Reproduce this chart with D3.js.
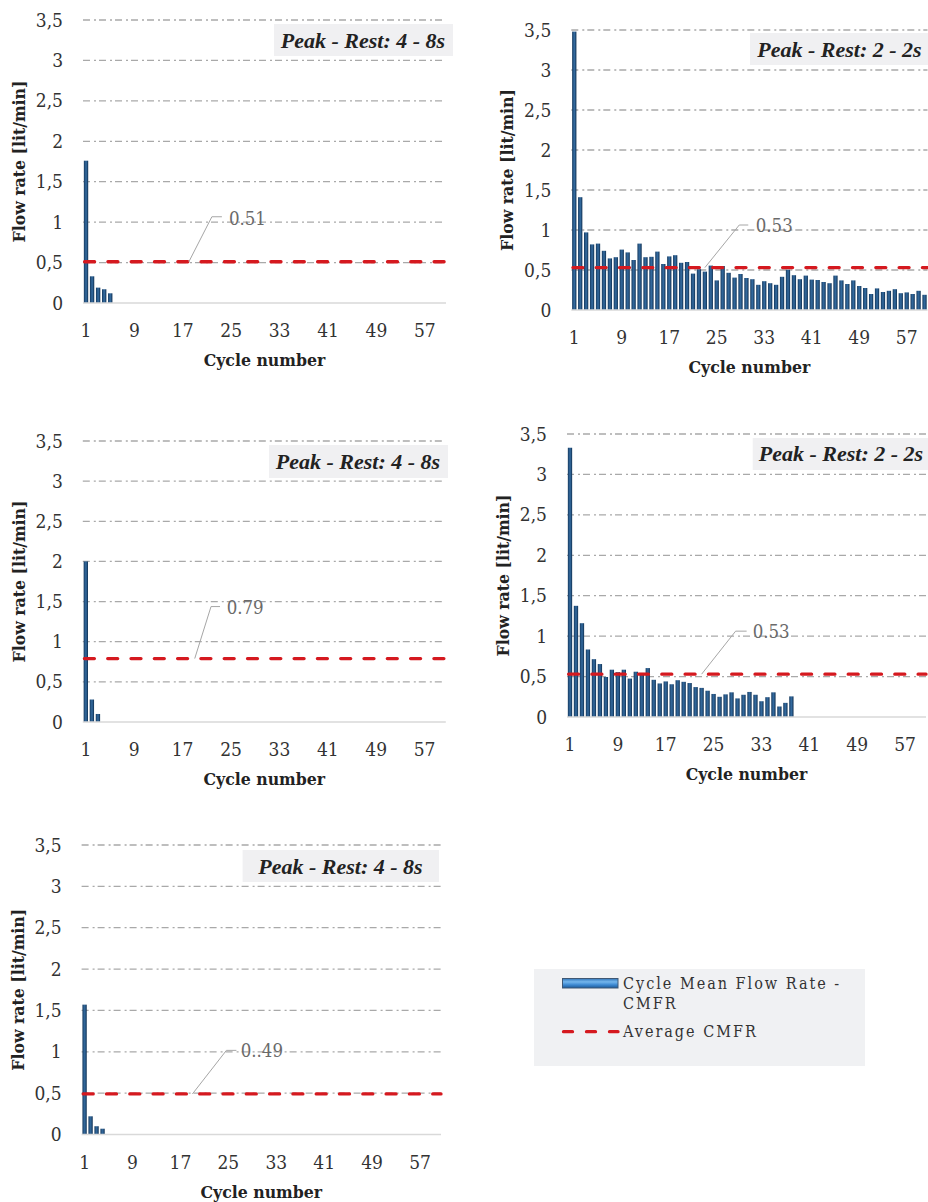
<!DOCTYPE html>
<html>
<head>
<meta charset="utf-8">
<script src="https://cdn.jsdelivr.net/npm/d3@7"></script>
<style>
  body { margin: 0; background: #fff; }
  svg { display: block; }
</style>
</head>
<body>
<svg id="chart" width="928" height="1202"></svg>
<script>
// ---- data ----------------------------------------------------------
const cycles = d3.range(1, 61);                       // cycle numbers 1..60
const xTickLabels = ["1", "9", "17", "25", "33", "41", "49", "57"];
const yTickValues = [0, 0.5, 1, 1.5, 2, 2.5, 3, 3.5];
const yTickLabels = ["0", "0,5", "1", "1,5", "2", "2,5", "3", "3,5"];

// cycle mean flow rate [lit/min], one array per test
const cmfrA = [1.76, 0.33, 0.19, 0.17, 0.12];
const cmfrB = [3.48, 1.41, 0.97, 0.82, 0.83, 0.74, 0.645, 0.66, 0.755, 0.72,
               0.625, 0.83, 0.66, 0.665, 0.73, 0.575, 0.67, 0.685, 0.59, 0.60,
               0.455, 0.51, 0.48, 0.555, 0.37, 0.55, 0.465, 0.405, 0.45, 0.40,
               0.385, 0.315, 0.36, 0.335, 0.315, 0.415, 0.505, 0.435, 0.385, 0.43,
               0.38, 0.375, 0.35, 0.335, 0.43, 0.37, 0.325, 0.37, 0.30, 0.275,
               0.20, 0.27, 0.225, 0.24, 0.26, 0.21, 0.22, 0.20, 0.24, 0.19];
const cmfrC = [2.0, 0.28, 0.10];
const cmfrD = [3.33, 1.375, 1.16, 0.835, 0.715, 0.655, 0.495, 0.585, 0.555, 0.585,
               0.475, 0.56, 0.545, 0.605, 0.46, 0.415, 0.44, 0.405, 0.455, 0.435,
               0.42, 0.37, 0.36, 0.325, 0.285, 0.25, 0.28, 0.305, 0.23, 0.275,
               0.31, 0.275, 0.195, 0.245, 0.305, 0.13, 0.175, 0.255];
const cmfrE = [1.57, 0.22, 0.10, 0.07];

const averages = [0.51, 0.53, 0.79, 0.53, 0.49];
const averageLabels = ["0.51", "0.53", "0.79", "0.53", "0..49"];
const panelTitles = ["Peak - Rest: 4 - 8s", "Peak - Rest: 2 - 2s", "Peak - Rest: 4 - 8s",
                     "Peak - Rest: 2 - 2s", "Peak - Rest: 4 - 8s"];
const xAxisTitle = "Cycle number";
const yAxisTitle = "Flow rate [lit/min]";
const legendBarLabel = ["Cycle Mean Flow Rate -", "CMFR"];
const legendLineLabel = "Average CMFR";

// ---- layout --------------------------------------------------------
const panels = [
  { series: cmfrA, left: 83,    right: 446,   top: 20,  bottom: 303,
    box: [274, 24, 179, 32],   titleCx: 363,   titleY: 48,
    leadCycle: 18, lead: [23, -45, 10],   labelDx: 7,   labelDy: 8 },
  { series: cmfrB, left: 571.3, right: 927.5, top: 30,  bottom: 310,
    box: [750, 33, 185, 32],   titleCx: 839.5, titleY: 57,
    leadCycle: 23, lead: [34.4, -42.6, 9], labelDx: 7.4, labelDy: 7 },
  { series: cmfrC, left: 82.8,  right: 445.8, top: 441, bottom: 722,
    box: [269, 445, 179, 33],  titleCx: 358,   titleY: 469,
    leadCycle: 19, lead: [16.3, -52, 9],  labelDx: 6.6, labelDy: 7 },
  { series: cmfrD, left: 567,   right: 926,   top: 434, bottom: 717,
    box: [752.7, 438, 185, 32], titleCx: 841,  titleY: 461,
    leadCycle: 23, lead: [34, -43, 11],   labelDx: 6,   labelDy: 7 },
  { series: cmfrE, left: 81.6,  right: 441,   top: 845, bottom: 1134.5,
    box: [242.6, 850, 196.4, 32], titleCx: 340.5, titleY: 874,
    leadCycle: 19, lead: [34, -43.6, 10], labelDx: 4.3, labelDy: 7 }
];

const FONT = "'DejaVu Serif Condensed', 'DejaVu Serif', serif";
const TITLE_FONT = "'Liberation Serif', 'Times New Roman', serif";
const RED = "#d5191f";

const svg = d3.select("#chart");
const defs = svg.append("defs");

// bevelled bar fill
const barGrad = defs.append("linearGradient").attr("id", "barFill")
  .attr("x1", 0).attr("x2", 1).attr("y1", 0).attr("y2", 0);
[["0%", "#12365a"], ["30%", "#2a5a8a"], ["55%", "#336a9e"], ["100%", "#0e2e50"]]
  .forEach(([o, c]) => barGrad.append("stop").attr("offset", o).attr("stop-color", c));

const swatchGrad = defs.append("linearGradient").attr("id", "swatchFill")
  .attr("x1", 0).attr("x2", 0).attr("y1", 0).attr("y2", 1);
[["0%", "#2f74b8"], ["35%", "#74b6ec"], ["65%", "#3f8bd3"], ["100%", "#1c5a99"]]
  .forEach(([o, c]) => swatchGrad.append("stop").attr("offset", o).attr("stop-color", c));

panels.forEach((p, i) => {
  const g = svg.append("g");
  const x = d3.scaleBand().domain(cycles).range([p.left, p.right])
    .paddingInner(0.28).paddingOuter(0.14);
  const y = d3.scaleLinear().domain([0, 3.5]).range([p.bottom, p.top]);

  // dash-dot gridlines
  g.append("g").selectAll("line").data(yTickValues.filter(v => v > 0)).join("line")
    .attr("x1", p.left).attr("x2", p.right)
    .attr("y1", d => y(d)).attr("y2", d => y(d))
    .attr("stroke", "#a9a9a9").attr("stroke-width", 1.3)
    .attr("stroke-dasharray", "7,4,2,3");

  // panel title box
  g.append("rect")
    .attr("x", p.box[0]).attr("y", p.box[1]).attr("width", p.box[2]).attr("height", p.box[3])
    .attr("fill", "#f0f0f2");
  g.append("text")
    .attr("x", p.titleCx).attr("y", p.titleY).attr("text-anchor", "middle")
    .attr("font-family", TITLE_FONT).attr("font-size", 22).attr("font-weight", "bold")
    .attr("font-style", "italic").attr("fill", "#222")
    .text(panelTitles[i]);

  // bars
  const rows = p.series.map((v, k) => ({ cycle: cycles[k], value: v }));
  g.append("g").selectAll("rect").data(rows).join("rect")
    .attr("x", d => x(d.cycle)).attr("width", x.bandwidth())
    .attr("y", d => y(d.value)).attr("height", d => y(0) - y(d.value))
    .attr("fill", "url(#barFill)");

  // category axis
  const xAxis = g.append("g").attr("transform", `translate(0,${p.bottom})`)
    .call(d3.axisBottom(x).tickValues(xTickLabels.map(Number))
      .tickFormat((d, k) => xTickLabels[k]).tickSize(0));
  xAxis.select(".domain").attr("stroke", "#d9d9d9").attr("stroke-width", 1.6)
    .attr("d", `M${p.left},0H${p.right}`);
  xAxis.selectAll("text").attr("y", 34).attr("dy", null)
    .attr("font-family", FONT).attr("font-size", 19).attr("fill", "#333");

  // value axis
  const yAxis = g.append("g").attr("transform", `translate(${p.left},0)`)
    .call(d3.axisLeft(y).tickValues(yTickValues)
      .tickFormat((d, k) => yTickLabels[k]).tickSize(0).tickPadding(20));
  yAxis.select(".domain").remove();
  yAxis.selectAll("text").attr("font-family", FONT).attr("font-size", 19).attr("fill", "#333");

  // axis titles
  g.append("text")
    .attr("x", (p.left + p.right) / 2).attr("y", p.bottom + 63).attr("text-anchor", "middle")
    .attr("font-family", FONT).attr("font-size", 17.5).attr("font-weight", "bold").attr("fill", "#222")
    .text(xAxisTitle);
  g.append("text")
    .attr("transform", `translate(${p.left - 64},${(p.top + p.bottom) / 2}) rotate(-90)`)
    .attr("text-anchor", "middle").attr("dy", "0.35em")
    .attr("font-family", FONT).attr("font-size", 17.5).attr("font-weight", "bold").attr("fill", "#222")
    .text(yAxisTitle);

  // average line
  const ay = y(averages[i]);
  g.append("line")
    .attr("x1", p.left + 1.6).attr("x2", p.right).attr("y1", ay).attr("y2", ay)
    .attr("stroke", RED).attr("stroke-width", 3.3)
    .attr("stroke-dasharray", "10,13.3").attr("stroke-linecap", "round");

  // leader and value label
  const lx = x(p.leadCycle) + x.bandwidth() / 2;
  const ex = lx + p.lead[0], ey = ay + p.lead[1], hx = ex + p.lead[2];
  g.append("path")
    .attr("d", `M${lx},${ay}L${ex},${ey}H${hx}`)
    .attr("fill", "none").attr("stroke", "#a6a6a6").attr("stroke-width", 1);
  g.append("text")
    .attr("x", hx + p.labelDx).attr("y", ey + p.labelDy)
    .attr("font-family", FONT).attr("font-size", 18.5).attr("fill", "#6a6a6a")
    .text(averageLabels[i]);
});

// ---- legend --------------------------------------------------------
const lg = svg.append("g");
lg.append("rect").attr("x", 534).attr("y", 969).attr("width", 331).attr("height", 97)
  .attr("fill", "#f0f1f3");
lg.append("rect").attr("x", 562.5).attr("y", 978.5).attr("width", 55.5).attr("height", 9.5)
  .attr("fill", "url(#swatchFill)").attr("stroke", "#3f5874").attr("stroke-width", 1);
lg.append("line").attr("x1", 563.5).attr("x2", 618).attr("y1", 1031.7).attr("y2", 1031.7)
  .attr("stroke", RED).attr("stroke-width", 3.3)
  .attr("stroke-dasharray", "9,14").attr("stroke-linecap", "round");
const legendText = (t, yy) => lg.append("text")
  .attr("x", 623).attr("y", yy)
  .attr("font-family", FONT).attr("font-size", 16).attr("letter-spacing", 2)
  .attr("fill", "#333").text(t);
legendText(legendBarLabel[0], 989);
legendText(legendBarLabel[1], 1009);
legendText(legendLineLabel, 1037);
</script>
</body>
</html>
